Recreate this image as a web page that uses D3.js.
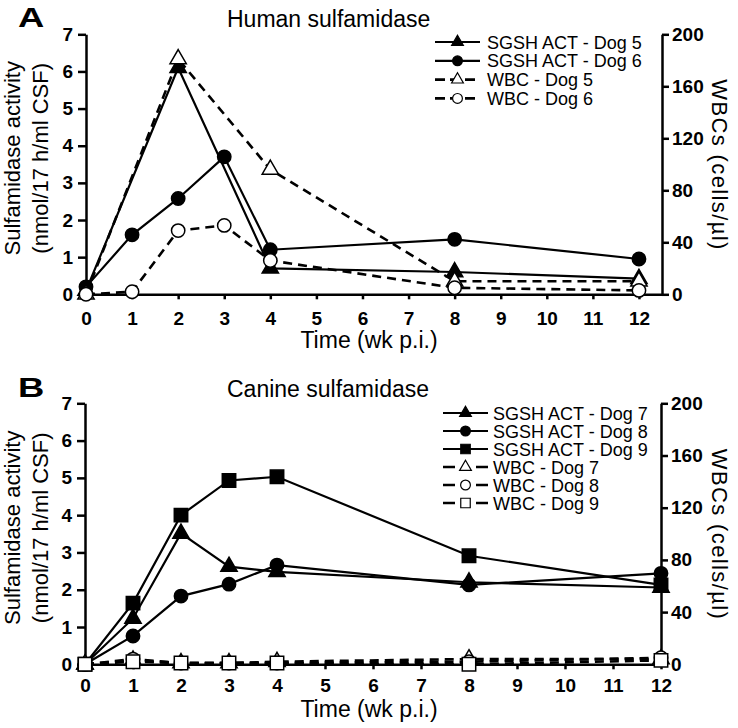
<!DOCTYPE html>
<html>
<head>
<meta charset="utf-8">
<script src="https://cdn.jsdelivr.net/npm/d3@7/dist/d3.min.js"></script>
<style>
body { margin: 0; background: #fff; }
text { font-family: "Liberation Sans", Arial, Helvetica, sans-serif; fill: #000; }
.tick text { font-weight: bold; font-size: 19px; }
.axis path, .axis line { stroke: #000; stroke-width: 2.5; }
</style>
</head>
<body>
<svg width="738" height="728"></svg>
<script>
// ---- data ----
var xTickValues = [0, 1, 2, 3, 4, 5, 6, 7, 8, 9, 10, 11, 12];
var leftTickValues = [0, 1, 2, 3, 4, 5, 6, 7];
var rightTickValues = [0, 40, 80, 120, 160, 200];

// panel A : human sulfamidase
var weeksDog5 = [0, 2, 4, 8, 12];
var weeksDog6 = [0, 1, 2, 3, 4, 8, 12];
var sgshDog5 = [0.1, 6.1, 0.7, 0.6, 0.42];
var sgshDog6 = [0.2, 1.6, 2.58, 3.7, 1.2, 1.48, 0.95];
var wbcDog5 = [0, 181, 96, 10, 10];
var wbcDog6 = [0, 2, 49, 53, 26, 5, 3];

// panel B : canine sulfamidase
var weeksB = [0, 1, 2, 3, 4, 8, 12];
var sgshDog7 = [0, 1.23, 3.51, 2.62, 2.48, 2.2, 2.06];
var sgshDog8 = [0, 0.76, 1.83, 2.15, 2.66, 2.13, 2.44];
var sgshDog9 = [0, 1.64, 4.0, 4.93, 5.03, 2.91, 2.13];
var wbcDog7 = [0, 3, 1, 1, 2, 4, 4];
var wbcDog8 = [0, 4, 1, 1, 1, 2, 5];
var wbcDog9 = [0, 2, 1, 1, 1, 0, 3];

var svg = d3.select("svg");

var symbolOf = { tri: d3.symbolTriangle, circ: d3.symbolCircle, sq: d3.symbolSquare };
var markSize = { tri: 115, circ: 140, sq: 180 };
var legendSize = { tri: 60, circ: 75, sq: 90 };

var drawPanel = function(p) {
	var g = svg.append("g");

	var x = d3.scaleLinear().domain(p.xDomain).range([p.left, p.right]);
	var yL = d3.scaleLinear().domain([0, 7]).range([p.bottom, p.top]);
	var yR = d3.scaleLinear().domain([0, 200]).range([p.bottom, p.top]);

	g.append("g").attr("class", "axis")
		.attr("transform", "translate(0," + p.bottom + ")")
		.call(d3.axisBottom(x).tickValues(xTickValues).tickFormat(d3.format("d"))
			.tickSize(5).tickSizeOuter(0).tickPadding(p.xPad));
	g.append("g").attr("class", "axis")
		.attr("transform", "translate(" + p.left + ",0)")
		.call(d3.axisLeft(yL).tickValues(leftTickValues).tickFormat(d3.format("d"))
			.tickSize(8).tickSizeOuter(0).tickPadding(5));
	g.append("g").attr("class", "axis")
		.attr("transform", "translate(" + p.right + ",0)")
		.call(d3.axisRight(yR).tickValues(rightTickValues).tickFormat(d3.format("d"))
			.tickSize(7).tickSizeOuter(0).tickPadding(3));

	// panel letter and title
	g.append("text").attr("transform", "translate(18," + p.titleY + ") scale(1.3,1)")
		.style("font-weight", "900").style("font-size", "28px").text(p.letter);
	g.append("text").attr("x", 227).attr("y", p.titleY)
		.style("font-size", "23px").text(p.title);

	// axis titles
	var cy = (p.top + p.bottom) / 2 - 6;
	g.append("text").attr("transform", "translate(20," + cy + ") rotate(-90)")
		.attr("text-anchor", "middle").style("font-size", "22px").text("Sulfamidase activity");
	g.append("text").attr("transform", "translate(48," + cy + ") rotate(-90)")
		.attr("text-anchor", "middle").style("font-size", "22px").text("(nmol/17 h/ml CSF)");
	g.append("text").attr("transform", "translate(712," + ((p.top + p.bottom) / 2) + ") rotate(90)")
		.attr("text-anchor", "middle").attr("textLength", 170).attr("lengthAdjust", "spacing")
		.style("font-size", "22px").text("WBCs (cells/\u00b5l)");
	g.append("text").attr("x", 369).attr("y", p.xLabelY)
		.attr("text-anchor", "middle").style("font-size", "23px").text("Time (wk p.i.)");

	// series: lines first, markers on top, WBC after SGSH
	p.series.forEach(function(s) {
		var y = s.wbc ? yR : yL;
		var pts = s.weeks.map(function(w, i) { return [x(w), y(s.values[i])]; });
		g.append("path").datum(pts)
			.attr("d", d3.line())
			.attr("fill", "none").attr("stroke", "#000")
			.attr("stroke-width", s.wbc ? 2.6 : 2.2)
			.attr("stroke-dasharray", s.wbc ? "9,6" : null);
	});
	p.series.forEach(function(s) {
		var y = s.wbc ? yR : yL;
		g.selectAll(null).data(s.weeks).enter().append("path")
			.attr("transform", function(w, i) { return "translate(" + x(w) + "," + y(s.values[i]) + ")"; })
			.attr("d", d3.symbol().type(symbolOf[s.shape]).size(markSize[s.shape]))
			.attr("fill", s.wbc ? "#fff" : "#000")
			.attr("stroke", "#000").attr("stroke-width", 1.5);
	});

	// legend
	var lg = p.legend;
	p.series.forEach(function(s, i) {
		var ly = lg.y0 + i * lg.dy;
		var mid = (lg.x1 + lg.x2) / 2;
		g.append("line").attr("x1", lg.x1).attr("x2", lg.x2).attr("y1", ly).attr("y2", ly)
			.attr("stroke", "#000").attr("stroke-width", s.wbc ? 2.6 : 2.2)
			.attr("stroke-dasharray", s.wbc ? lg.dash : null);
		g.append("path").attr("transform", "translate(" + mid + "," + ly + ")")
			.attr("d", d3.symbol().type(symbolOf[s.shape]).size(legendSize[s.shape]))
			.attr("fill", s.wbc ? "#fff" : "#000")
			.attr("stroke", "#000").attr("stroke-width", 1.2);
		g.append("text").attr("x", lg.tx).attr("y", ly + 6.5)
			.style("font-size", "18px").text(s.label);
	});
};

drawPanel({
	letter: "A", title: "Human sulfamidase", titleY: 27,
	left: 86, right: 662, xDomain: [0, 12.5], top: 34.3, bottom: 294.3,
	xPad: 12, xLabelY: 348,
	legend: { x1: 435, x2: 480, tx: 487, y0: 42, dy: 18.8, dash: "10,5" },
	series: [
		{ label: "SGSH ACT - Dog 5", weeks: weeksDog5, values: sgshDog5, shape: "tri", wbc: false },
		{ label: "SGSH ACT - Dog 6", weeks: weeksDog6, values: sgshDog6, shape: "circ", wbc: false },
		{ label: "WBC - Dog 5", weeks: weeksDog5, values: wbcDog5, shape: "tri", wbc: true },
		{ label: "WBC - Dog 6", weeks: weeksDog6, values: wbcDog6, shape: "circ", wbc: true }
	]
});

drawPanel({
	letter: "B", title: "Canine sulfamidase", titleY: 397,
	left: 85, right: 661, xDomain: [0, 12], top: 403.3, bottom: 664.3,
	xPad: 9, xLabelY: 717,
	legend: { x1: 443, x2: 488, tx: 493, y0: 413, dy: 18, dash: "12,21" },
	series: [
		{ label: "SGSH ACT - Dog 7", weeks: weeksB, values: sgshDog7, shape: "tri", wbc: false },
		{ label: "SGSH ACT - Dog 8", weeks: weeksB, values: sgshDog8, shape: "circ", wbc: false },
		{ label: "SGSH ACT - Dog 9", weeks: weeksB, values: sgshDog9, shape: "sq", wbc: false },
		{ label: "WBC - Dog 7", weeks: weeksB, values: wbcDog7, shape: "tri", wbc: true },
		{ label: "WBC - Dog 8", weeks: weeksB, values: wbcDog8, shape: "circ", wbc: true },
		{ label: "WBC - Dog 9", weeks: weeksB, values: wbcDog9, shape: "sq", wbc: true }
	]
});
</script>
</body>
</html>
